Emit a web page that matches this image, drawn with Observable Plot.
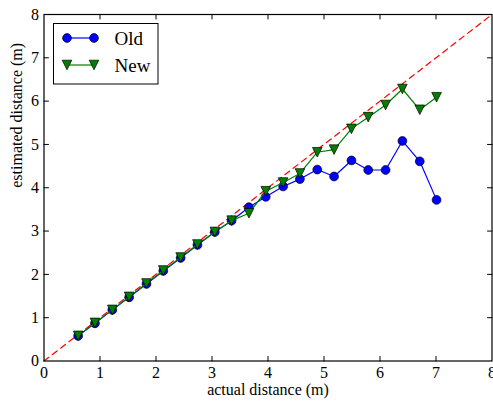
<!DOCTYPE html>
<html>
<head>
<meta charset="utf-8">
<script src="https://cdn.jsdelivr.net/npm/d3@7"></script>
<script src="https://cdn.jsdelivr.net/npm/@observablehq/plot@0.6"></script>
<style>
  html, body { margin: 0; padding: 0; background: #fff; }
  #chart svg { display: block; }
  #chart svg, #chart svg text { font-family: "Liberation Serif", "Times New Roman", Times, "DejaVu Serif", serif !important; }
</style>
</head>
<body>
<div id="chart"></div>
<script>
// ---- data ----
const actual = [0.61, 0.91, 1.22, 1.52, 1.83, 2.13, 2.44, 2.74, 3.05, 3.35, 3.66, 3.96, 4.27, 4.57, 4.88, 5.18, 5.49, 5.79, 6.10, 6.40, 6.71, 7.01];
const oldEst = [0.58, 0.87, 1.18, 1.47, 1.78, 2.08, 2.38, 2.68, 2.98, 3.24, 3.55, 3.79, 4.03, 4.20, 4.42, 4.26, 4.63, 4.41, 4.41, 5.08, 4.61, 3.72];
const newEst = [0.58, 0.88, 1.18, 1.48, 1.79, 2.09, 2.39, 2.69, 2.98, 3.24, 3.41, 3.92, 4.12, 4.33, 4.82, 4.88, 5.36, 5.63, 5.91, 6.28, 5.80, 6.09];
const diagonal = [0, 8];
const xTicks = [0, 1, 2, 3, 4, 5, 6, 7, 8];
const yTicks = [0, 1, 2, 3, 4, 5, 6, 7, 8];
const seriesNames = ["Old", "New"];
const xLabel = "actual distance (m)";
const yLabel = "estimated distance (m)";

const oldData = actual.map((x, i) => ({x, y: oldEst[i]}));
const newData = actual.map((x, i) => ({x, y: newEst[i]}));
const diagData = diagonal.map(v => ({x: v, y: v}));

const BLUE = "#0000ff", GREEN = "#007f00", RED = "#ff0000";
const FONT = "Liberation Serif, Times New Roman, Times, DejaVu Serif, serif";

// downward triangle, bbox-centred (matplotlib 'v')
const triDown = {
  draw(context, size) {
    const s = Math.sqrt(size / Math.PI);
    context.moveTo(-s, -s);
    context.lineTo(s, -s);
    context.lineTo(0, s);
    context.closePath();
  }
};
const tickShape = {
  draw(context, l) {
    context.moveTo(0, 0);
    context.lineTo(0, -l);
  }
};
const TL = 4.5;
const innerTicks = xTicks.filter(t => t > 0 && t < 8);

const chart = Plot.plot({
  width: 493,
  height: 405,
  marginLeft: 43.5,
  marginRight: 1.5,
  marginTop: 14,
  marginBottom: 44.5,
  style: {background: "#fff", overflow: "visible"},
  x: {domain: [0, 8], ticks: xTicks},
  y: {domain: [0, 8], ticks: yTicks},
  marks: [
    Plot.line(diagData, {x: "x", y: "y", stroke: RED, strokeWidth: 1.2, strokeDasharray: "6,4.5"}),
    Plot.line(oldData, {x: "x", y: "y", stroke: BLUE, strokeWidth: 1.2}),
    Plot.dot(oldData, {x: "x", y: "y", r: 4.4, fill: BLUE, stroke: "#000", strokeWidth: 0.7}),
    Plot.line(newData, {x: "x", y: "y", stroke: GREEN, strokeWidth: 1.2}),
    Plot.dot(newData, {x: "x", y: "y", r: 4.8, symbol: triDown, fill: GREEN, stroke: "#000", strokeWidth: 0.7}),
    // inward ticks on all four sides
    Plot.vector(innerTicks, {x: d => d, frameAnchor: "bottom", length: TL, anchor: "start", shape: tickShape, stroke: "#000", strokeWidth: 1}),
    Plot.vector(innerTicks, {x: d => d, frameAnchor: "top", length: TL, anchor: "start", rotate: 180, shape: tickShape, stroke: "#000", strokeWidth: 1}),
    Plot.vector(innerTicks, {y: d => d, frameAnchor: "left", length: TL, anchor: "start", rotate: 90, shape: tickShape, stroke: "#000", strokeWidth: 1}),
    Plot.vector(innerTicks, {y: d => d, frameAnchor: "right", length: TL, anchor: "start", rotate: -90, shape: tickShape, stroke: "#000", strokeWidth: 1}),
    Plot.axisX({anchor: "bottom", ticks: xTicks, tickSize: 0, tickPadding: 5.5, fontSize: 16, fill: "#000", label: null}),
    Plot.axisY({anchor: "left", ticks: yTicks, tickSize: 0, tickPadding: 5, fontSize: 16, fill: "#000", label: null}),
    Plot.frame({stroke: "#000", strokeWidth: 1.2}),
    Plot.text([xLabel], {text: d => d, frameAnchor: "bottom", dy: 28.4, fontSize: 16, fill: "#000", lineAnchor: "middle"}),
    Plot.text([yLabel], {text: d => d, frameAnchor: "left", dx: -27.6, rotate: -90, fontSize: 16, fill: "#000", lineAnchor: "middle"})
  ]
});

// legend (inside the axes, upper-left)
const svg = d3.select(chart);
const lg = svg.append("g").attr("font-family", FONT).attr("text-anchor", "start");
lg.append("rect").attr("x", 53.5).attr("y", 23.5).attr("width", 104.5).attr("height", 60.5)
  .attr("fill", "#fff").attr("stroke", "#000").attr("stroke-width", 1);
const rows = [
  {name: seriesNames[0], color: BLUE, y: 38, tri: false},
  {name: seriesNames[1], color: GREEN, y: 65, tri: true}
];
rows.forEach(r => {
  lg.append("line").attr("x1", 67).attr("x2", 94).attr("y1", r.y).attr("y2", r.y)
    .attr("stroke", r.color).attr("stroke-width", 1.2);
  [67, 94].forEach(cx => {
    if (r.tri) {
      const s = 4.8;
      lg.append("path").attr("d", `M${cx - s},${r.y - s}L${cx + s},${r.y - s}L${cx},${r.y + s}Z`)
        .attr("fill", r.color).attr("stroke", "#000").attr("stroke-width", 0.7);
    } else {
      lg.append("circle").attr("cx", cx).attr("cy", r.y).attr("r", 4.4)
        .attr("fill", r.color).attr("stroke", "#000").attr("stroke-width", 0.7);
    }
  });
  lg.append("text").attr("x", 114.5).attr("y", r.y + 6.5).attr("font-size", 19).attr("fill", "#000").text(r.name);
});

document.getElementById("chart").appendChild(chart);
</script>
</body>
</html>
